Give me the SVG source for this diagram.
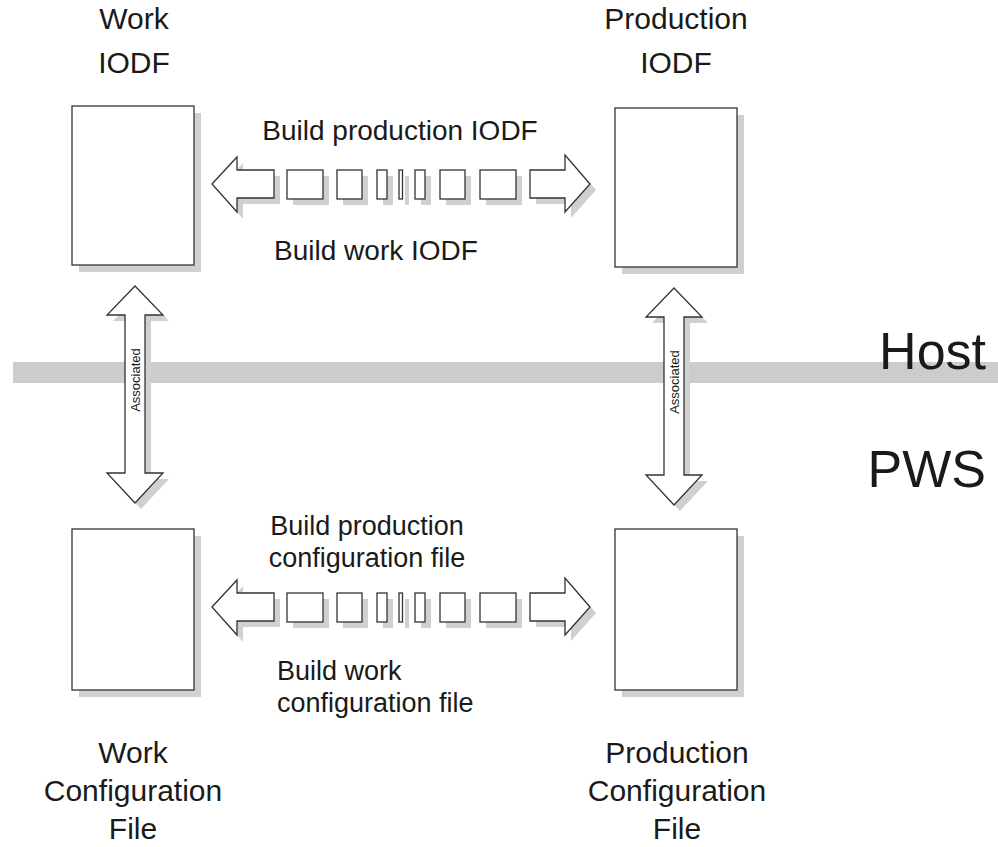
<svg xmlns="http://www.w3.org/2000/svg" width="998" height="847" viewBox="0 0 998 847">
<defs>
<style>
.sh{fill:#d0d0d0;stroke:none}
.fg{fill:#ffffff;stroke:#333333;stroke-width:1.3}
.t{font-family:"Liberation Sans",Arial,sans-serif;fill:#1a1a1a}
.title{font-size:30px;text-anchor:middle}
.lbl{font-size:27px}
.lbl2{font-size:28px}
.big{font-size:52px;text-anchor:end}
.assoc{font-size:13px;text-anchor:middle}
</style>
<g id="hrow">
<path class="sh" d="M218,190 L243,163 L243,176 L280,176 L280,204 L243,204 L243,219 Z"/>
<path class="fg" d="M212,184 L237,157 L237,170 L274,170 L274,198 L237,198 L237,212 Z"/>
<rect class="sh" x="293" y="176" width="36" height="29"/><rect class="fg" x="287" y="170" width="36" height="29"/>
<rect class="sh" x="343" y="176" width="25" height="29"/><rect class="fg" x="337" y="170" width="25" height="29"/>
<rect class="sh" x="383" y="176" width="10" height="29"/><rect class="fg" x="377" y="170" width="10" height="29"/>
<rect class="sh" x="405" y="176" width="4" height="29"/><rect class="fg" x="399" y="170" width="3.5" height="29"/>
<rect class="sh" x="421" y="176" width="10" height="29"/><rect class="fg" x="415" y="170" width="10" height="29"/>
<rect class="sh" x="446" y="176" width="25" height="29"/><rect class="fg" x="440" y="170" width="25" height="29"/>
<rect class="sh" x="486" y="176" width="36" height="29"/><rect class="fg" x="480" y="170" width="36" height="29"/>
<path class="sh" d="M536,176 L571,176 L571,161 L596,190 L571,218 L571,204 L536,204 Z"/>
<path class="fg" d="M530,170 L565,170 L565,155 L590,184 L565,212 L565,198 L530,198 Z"/>
</g>
</defs>

<rect id="band" x="13" y="362" width="985" height="21" fill="#cccccc"/>

<g id="connectors">
<use href="#hrow"/>
<use href="#hrow" transform="translate(0,423)"/>
<g id="assoc-left">
<path class="sh" d="M141,292 L169,321 L151,321 L151,479 L169,479 L141,509 L113,479 L131,479 L131,321 L113,321 Z"/>
<path class="fg" d="M135,286 L163,315 L145,315 L145,473 L163,473 L135,503 L107,473 L125,473 L125,315 L107,315 Z"/>
<text class="t assoc" transform="translate(139.5,380) rotate(-90)">Associated</text>
</g>
<g id="assoc-right">
<path class="sh" d="M680,294 L708,323 L690,323 L690,481 L708,481 L680,511 L652,481 L670,481 L670,323 L652,323 Z"/>
<path class="fg" d="M674,288 L702,317 L684,317 L684,475 L702,475 L674,505 L646,475 L664,475 L664,317 L646,317 Z"/>
<text class="t assoc" transform="translate(678.5,382) rotate(-90)">Associated</text>
</g>
</g>

<g id="work-iodf">
<rect class="sh" x="79" y="113" width="122" height="159"/>
<rect class="fg" x="72" y="106" width="122" height="159"/>
<text class="t title" x="134" y="29">Work</text>
<text class="t title" x="134" y="73">IODF</text>
</g>
<g id="prod-iodf">
<rect class="sh" x="622" y="115" width="122" height="159"/>
<rect class="fg" x="615" y="108" width="122" height="159"/>
<text class="t title" x="676" y="29">Production</text>
<text class="t title" x="676" y="73">IODF</text>
</g>
<g id="work-cfg">
<rect class="sh" x="79" y="536" width="122" height="161"/>
<rect class="fg" x="72" y="529" width="122" height="161"/>
<text class="t title" x="133" y="763">Work</text>
<text class="t title" x="133" y="801">Configuration</text>
<text class="t title" x="133" y="839">File</text>
</g>
<g id="prod-cfg">
<rect class="sh" x="622" y="536" width="122" height="161"/>
<rect class="fg" x="615" y="529" width="122" height="161"/>
<text class="t title" x="677" y="763">Production</text>
<text class="t title" x="677" y="801">Configuration</text>
<text class="t title" x="677" y="839">File</text>
</g>

<g id="labels">
<text class="t lbl2" x="400" y="140" text-anchor="middle">Build production IODF</text>
<text class="t lbl2" x="376" y="260" text-anchor="middle">Build work IODF</text>
<text class="t lbl" x="367" y="535" text-anchor="middle">Build production</text>
<text class="t lbl" x="367" y="567" text-anchor="middle">configuration file</text>
<text class="t lbl" x="277" y="680">Build work</text>
<text class="t lbl" x="277" y="712">configuration file</text>
<text class="t big" x="986" y="369">Host</text>
<text class="t big" x="986" y="487">PWS</text>
</g>
</svg>
